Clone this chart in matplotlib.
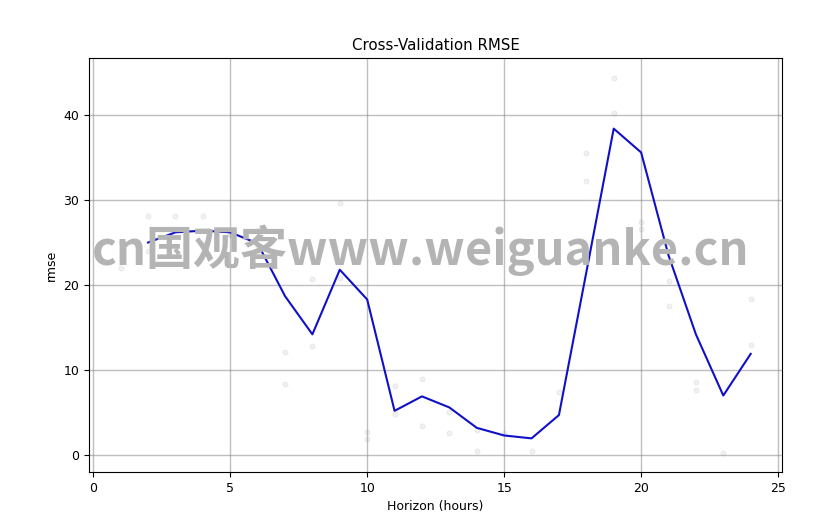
import matplotlib
matplotlib.use("Agg")
import matplotlib.pyplot as plt

# point-wise RMSE values (gray dots)
point_horizon = [1, 1, 2, 2, 3, 3, 4, 4, 5, 5, 6, 6, 7, 7, 8, 8, 9, 9, 10, 10,
                 11, 11, 12, 12, 13, 13, 14, 14, 15, 16, 17, 18, 18, 19, 19,
                 20, 20, 21, 21, 22, 22, 23, 24, 24]
point_rmse = [25.1, 22.0, 28.1, 24.0, 28.1, 24.6, 28.1, 24.8, 26.0, 25.9, 26.5, 24.5,
              12.1, 8.3, 20.7, 12.8, 29.6, 20.8, 2.7, 1.9,
              8.1, 4.8, 9.0, 3.45, 5.1, 2.55, 2.9, 0.5, 2.55, 0.5, 7.45, 35.5, 32.2,
              44.4, 40.2, 27.4, 26.6, 20.5, 17.5, 8.6, 7.6, 0.2, 18.3, 13.0]

# rolling mean RMSE (blue line)
line_horizon = [2, 3, 4, 5, 6, 7, 8, 9, 10, 11, 12, 13, 14, 15, 16, 17, 18, 19, 20,
                21, 22, 23, 24]
line_rmse = [25.0, 26.2, 26.4, 26.2, 24.9, 18.7, 14.2, 21.8, 18.3, 5.2, 6.9, 5.6,
             3.2, 2.3, 1.96, 4.7, 21.5, 38.4, 35.6, 23.5, 14.2, 7.0, 11.9]

title = "Cross-Validation RMSE"
xlabel = "Horizon (hours)"
ylabel = "rmse"
watermark = "cn国观客www.weiguanke.cn"

plt.rcParams['font.size'] = 9

fig = plt.figure(figsize=(8.33, 5.28), dpi=100)
ax = fig.add_axes([0.107, 0.106, 0.832, 0.784])

ax.plot(point_horizon, point_rmse, '.', alpha=0.1, c='gray', markersize=7)
ax.plot(line_horizon, line_rmse, '-', c='#1010c8', lw=1.5)
ax.grid(True, which='major', c='gray', ls='-', lw=1, alpha=0.5)
ax.set_axisbelow(True)
ax.set_xlim(-0.15, 25.15)
ax.set_ylim(-2.0, 46.7)
ax.set_xticks([0, 5, 10, 15, 20, 25])
ax.set_yticks([0, 10, 20, 30, 40])
ax.set_title(title)
ax.set_xlabel(xlabel)
ax.set_ylabel(ylabel)

wm = fig.text(421 / 833, 1 - 250 / 528, watermark, ha='center', va='center',
              fontsize=30, fontweight='bold', color='#b4b4b4',
              family=['Noto Sans CJK SC', 'DejaVu Sans'], zorder=10)
fig.canvas.draw()
w = wm.get_window_extent().width
wm.set_fontsize(30 * 657 / w)

fig.savefig("out.png", dpi=100)
